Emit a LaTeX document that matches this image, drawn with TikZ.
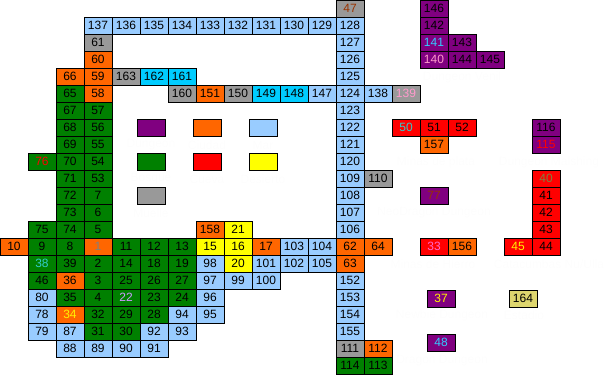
\documentclass[tikz,border=0pt]{standalone}
\usepackage{fontspec}
\setmainfont{Liberation Sans}
\definecolor{cblue}{HTML}{99CCFF}
\definecolor{cgray}{HTML}{999999}
\definecolor{corange}{HTML}{FF6600}
\definecolor{ccyan}{HTML}{00CCFF}
\definecolor{cgreen}{HTML}{008000}
\definecolor{cyellow}{HTML}{FFFF00}
\definecolor{cred}{HTML}{FF0000}
\definecolor{cpurple}{HTML}{800080}
\definecolor{ckhaki}{HTML}{DED66E}
\definecolor{tbrown}{HTML}{993300}
\definecolor{tpink}{HTML}{FF99CC}
\definecolor{tmagenta}{HTML}{FF66CC}
\definecolor{tcyan}{HTML}{33CCCC}
\definecolor{tsky}{HTML}{33CCFF}
\definecolor{tolive}{HTML}{808040}
\definecolor{tgray}{HTML}{808080}
\definecolor{tlav}{HTML}{CC99FF}
\definecolor{faintcol}{HTML}{FDFDFD}
\begin{document}
\begin{tikzpicture}[x=1pt,y=-1pt,
  cellbox/.style={draw=black,line width=1pt,minimum width=28pt,minimum height=17pt,
    inner sep=0pt,outer sep=0pt,font=\fontsize{12}{12}\selectfont,text=black},
  legbox/.style={draw=black,line width=1pt,minimum width=28pt,minimum height=17pt,
    inner sep=0pt,outer sep=0pt},
  faintlabel/.style={text=faintcol,font=\fontsize{12}{12}\selectfont,inner sep=0pt}]
\useasboundingbox (0,0) rectangle (610,375);
% blue cells
\foreach \c/\r/\t in {3/1/137,4/1/136,5/1/135,6/1/134,7/1/133,8/1/132,9/1/131,10/1/130,11/1/129,12/1/128,
  12/2/127,12/3/126,12/4/125,11/5/147,12/5/124,13/5/138,12/6/123,12/7/122,12/8/121,12/9/120,
  12/10/109,12/11/108,12/12/107,12/13/106,10/14/103,11/14/104,7/15/98,9/15/101,10/15/102,11/15/105,
  7/16/97,8/16/99,9/16/100,12/16/152,1/17/80,7/17/96,12/17/153,1/18/78,6/18/94,7/18/95,12/18/154,
  1/19/79,2/19/87,5/19/92,6/19/93,12/19/155,2/20/88,3/20/89,4/20/90,5/20/91}
  \node[cellbox,fill=cblue] (n\t) at ({28*\c+14},{17*\r+8.5}) {\t};
% gray cells
\foreach \c/\r/\t in {3/2/61,4/4/163,6/5/160,8/5/150,13/10/110,12/20/111}
  \node[cellbox,fill=cgray] (n\t) at ({28*\c+14},{17*\r+8.5}) {\t};
% orange cells
\foreach \c/\r/\t in {3/3/60,2/4/66,3/4/59,3/5/58,7/5/151,15/8/157,7/13/158,0/14/10,9/14/17,
  12/14/62,13/14/64,16/14/156,12/15/63,2/16/36,13/20/112}
  \node[cellbox,fill=corange] (n\t) at ({28*\c+14},{17*\r+8.5}) {\t};
% cyan cells
\foreach \c/\r/\t in {5/4/162,6/4/161,9/5/149,10/5/148}
  \node[cellbox,fill=ccyan] (n\t) at ({28*\c+14},{17*\r+8.5}) {\t};
% green cells
\foreach \c/\r/\t in {2/5/65,2/6/67,3/6/57,2/7/68,3/7/56,2/8/69,3/8/55,2/9/70,3/9/54,2/10/71,3/10/53,
  2/11/72,3/11/7,2/12/73,3/12/6,1/13/75,2/13/74,3/13/5,1/14/9,2/14/8,4/14/11,5/14/12,6/14/13,
  2/15/39,3/15/2,4/15/14,5/15/18,6/15/19,1/16/46,3/16/3,4/16/25,5/16/26,6/16/27,2/17/35,3/17/4,
  5/17/23,6/17/24,3/18/32,4/18/29,5/18/28,3/19/31,4/19/30,12/21/114,13/21/113}
  \node[cellbox,fill=cgreen] (n\t) at ({28*\c+14},{17*\r+8.5}) {\t};
% yellow cells
\foreach \c/\r/\t in {8/13/21,7/14/15,8/14/16,8/15/20}
  \node[cellbox,fill=cyellow] (n\t) at ({28*\c+14},{17*\r+8.5}) {\t};
% red cells
\foreach \c/\r/\t in {15/7/51,16/7/52,19/11/41,19/12/42,19/13/43,19/14/44}
  \node[cellbox,fill=cred] (n\t) at ({28*\c+14},{17*\r+8.5}) {\t};
% purple cells
\foreach \c/\r/\t in {15/0/146,15/1/142,16/2/143,16/3/144,17/3/145,19/7/116}
  \node[cellbox,fill=cpurple] (n\t) at ({28*\c+14},{17*\r+8.5}) {\t};
% cells with coloured numbers
\foreach \c/\r/\t/\f/\k in {12/0/47/cgray/tbrown,14/5/139/cgray/tpink,3/14/1/corange/tgray,
  2/18/34/corange/yellow,1/9/76/cgreen/red,1/15/38/cgreen/tcyan,4/17/22/cgreen/tlav,
  14/7/50/cred/tcyan,19/10/40/cred/tolive,15/14/33/cred/tmagenta,18/14/45/cred/yellow,
  15/2/141/cpurple/tsky,15/3/140/cpurple/tpink,19/8/115/cpurple/red,15/11/77/cpurple/tbrown}
  \node[cellbox,fill=\f,text=\k] (n\t) at ({28*\c+14},{17*\r+8.5}) {\t};
% loose cells
\node[cellbox,fill=cpurple,text=yellow] (n37) at (441,298.5) {37};
\node[cellbox,fill=cpurple,text=tsky] (n48) at (441,342.5) {48};
\node[cellbox,fill=ckhaki] (n164) at (523,298.5) {164};
% legend
\node[legbox,fill=cpurple] (lgDungeon) at (151,127.5) {};
\node[legbox,fill=corange] (lgCiudad) at (207,127.5) {};
\node[legbox,fill=cblue] (lgMar) at (263,127.5) {};
\node[legbox,fill=cgreen] (lgBosque) at (151,161.5) {};
\node[legbox,fill=cred] (lgCueva) at (207,161.5) {};
\node[legbox,fill=cyellow] (lgDesierto) at (263,161.5) {};
\node[legbox,fill=cgray] (lgMuelle) at (151,195.5) {};
\node[faintlabel] (lbDungeon) at (151,145) {Dungeon};
\node[faintlabel] (lbCiudad) at (207,145) {Ciudad};
\node[faintlabel] (lbMar) at (263,145) {Mar};
\node[faintlabel] (lbBosque) at (151,179) {Bosque};
\node[faintlabel] (lbCueva) at (207,179) {Cueva};
\node[faintlabel] (lbDesierto) at (263,179) {Desierto};
\node[faintlabel] (lbMuelle) at (151,213) {Muelle};
% faint area labels
\node[faintlabel] (lbVenil) at (462,77) {Dungeon Venil};
\node[faintlabel] (lbPlata) at (436,162) {Minas de plata};
\node[faintlabel] (lbMalshing) at (549,162) {Dungeon Malshing};
\node[faintlabel] (lbNeo) at (434,213) {NeoDragon Dungeon};
\node[faintlabel] (lbHierro) at (433,264) {Minas de Hierro};
\node[faintlabel] (lbCata) at (549,264) {Catacumbas Nu/Ulla};
\node[faintlabel] (lbNewbie) at (442,315) {Newbie Dungeon};
\node[faintlabel] (lbEstadio) at (524,315) {Estadio};
\node[faintlabel] (lbDragon) at (442,361) {Dragon Dungeon};
\end{tikzpicture}
\end{document}
